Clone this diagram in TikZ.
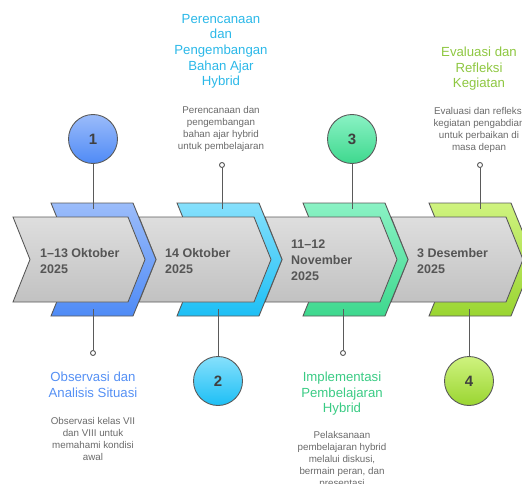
\documentclass[tikz,border=0pt]{standalone}
\usepackage{fontspec}
\setmainfont{Liberation Sans}
\usepackage{tikz}
\definecolor{blueA}{HTML}{9BBCFA}
\definecolor{blueB}{HTML}{4F8BF6}
\definecolor{cyanA}{HTML}{86E0FC}
\definecolor{cyanB}{HTML}{1DBFF5}
\definecolor{greenA}{HTML}{8AF2C4}
\definecolor{greenB}{HTML}{3ED88E}
\definecolor{limeA}{HTML}{CFF37F}
\definecolor{limeB}{HTML}{9AD531}
\definecolor{edgegray}{HTML}{5A5A5A}
\definecolor{dategray}{HTML}{555555}
\definecolor{descgray}{HTML}{6A6A6A}
\definecolor{blueT}{HTML}{5590F4}
\definecolor{cyanT}{HTML}{2BB8E8}
\definecolor{greenT}{HTML}{3ACB84}
\definecolor{limeT}{HTML}{8EC741}
\newcommand{\BackChevron}[3]{%
\draw [backshape,top color=#2,bottom color=#3] (#1+51,-203) -- (#1+133,-203)
-- (#1+156,-259.5) -- (#1+133,-316) -- (#1+51,-316) -- (#1+74,-259.5) -- cycle;
\draw [frontshape] (#1+13,-217) -- (#1+128,-217) -- (#1+145,-259.5)
-- (#1+128,-302) -- (#1+13,-302) -- (#1+30,-259.5) -- cycle;}

\begin{document}
\begin{tikzpicture}
[x=1pt,y=1pt,
backshape/.style={draw=edgegray,line width=0.9pt,line join=miter},
frontshape/.style={draw=edgegray,line width=0.9pt,line join=miter,
top color=black!13,bottom color=black!24},
stepcircle/.style={circle,draw=edgegray,line width=0.9pt,minimum size=49pt,
inner sep=0pt,font=\fontsize{15}{15}\bfseries\selectfont,text=black!75},
dotnode/.style={circle,draw=edgegray,line width=0.9pt,fill=white,
minimum size=5pt,inner sep=0pt},
stem/.style={draw=edgegray,line width=1pt},
datenode/.style={anchor=north west,align=left,inner sep=0pt,text=dategray,
font=\fontsize{12.5}{16}\bfseries\selectfont},
titlenode/.style={anchor=north,align=center,inner sep=0pt,
font=\fontsize{13.2}{15.6}\selectfont},
descnode/.style={anchor=north,align=center,inner sep=0pt,text=descgray,
font=\fontsize{9.8}{12}\selectfont}
]
\useasboundingbox (0,0) rectangle (522,-484);
\clip (0,0) rectangle (522,-484);
\BackChevron{378}{limeA}{limeB}
\BackChevron{252}{greenA}{greenB}
\BackChevron{126}{cyanA}{cyanB}
\BackChevron{0}{blueA}{blueB}
\node [datenode] (date1) at (40,-248) {1--13 Oktober\\2025};
\node [datenode] (date2) at (165,-248) {14 Oktober\\2025};
\node [datenode] (date3) at (291,-240) {11--12\\November\\2025};
\node [datenode] (date4) at (417,-248) {3 Desember\\2025};
\coordinate (top1) at (93,-209);
\coordinate (bot1) at (93,-309);
\coordinate (top2) at (222,-209);
\coordinate (bot2) at (218,-309);
\coordinate (top3) at (352,-209);
\coordinate (bot3) at (343,-309);
\coordinate (top4) at (480,-209);
\coordinate (bot4) at (469,-309);
\node [stepcircle,top color=blueA,bottom color=blueB] (C1) at (93,-139) {1};
\node [stepcircle,top color=cyanA,bottom color=cyanB] (C2) at (218,-381) {2};
\node [stepcircle,top color=greenA,bottom color=greenB] (C3) at (352,-139) {3};
\node [stepcircle,top color=limeA,bottom color=limeB] (C4) at (469,-381) {4};
\node [dotnode] (D1) at (93,-353) {};
\node [dotnode] (D2) at (222,-165) {};
\node [dotnode] (D3) at (343,-353) {};
\node [dotnode] (D4) at (480,-165) {};
\draw [stem] (C1) -- (top1);
\draw [stem] (bot1) -- (D1);
\draw [stem] (D2) -- (top2);
\draw [stem] (bot2) -- (C2);
\draw [stem] (C3) -- (top3);
\draw [stem] (bot3) -- (D3);
\draw [stem] (D4) -- (top4);
\draw [stem] (bot4) -- (C4);
\node [titlenode,text=blueT] (title1) at (93,-372) {Observasi dan\\Analisis Situasi};
\node [descnode] (desc1) at (93,-417) {Observasi kelas VII\\dan VIII untuk\\memahami kondisi\\awal};
\node [titlenode,text=cyanT] (title2) at (221,-14) {Perencanaan\\dan\\Pengembangan\\Bahan Ajar\\Hybrid};
\node [descnode] (desc2) at (221,-106) {Perencanaan dan\\pengembangan\\bahan ajar hybrid\\untuk pembelajaran};
\node [titlenode,text=greenT] (title3) at (342,-372) {Implementasi\\Pembelajaran\\Hybrid};
\node [descnode] (desc3) at (342,-431) {Pelaksanaan\\pembelajaran hybrid\\melalui diskusi,\\bermain peran, dan\\presentasi};
\node [titlenode,text=limeT] (title4) at (479,-47) {Evaluasi dan\\Refleksi\\Kegiatan};
\node [descnode] (desc4) at (479,-107) {Evaluasi dan refleksi\\kegiatan pengabdian\\untuk perbaikan di\\masa depan};
\end{tikzpicture}
\end{document}
